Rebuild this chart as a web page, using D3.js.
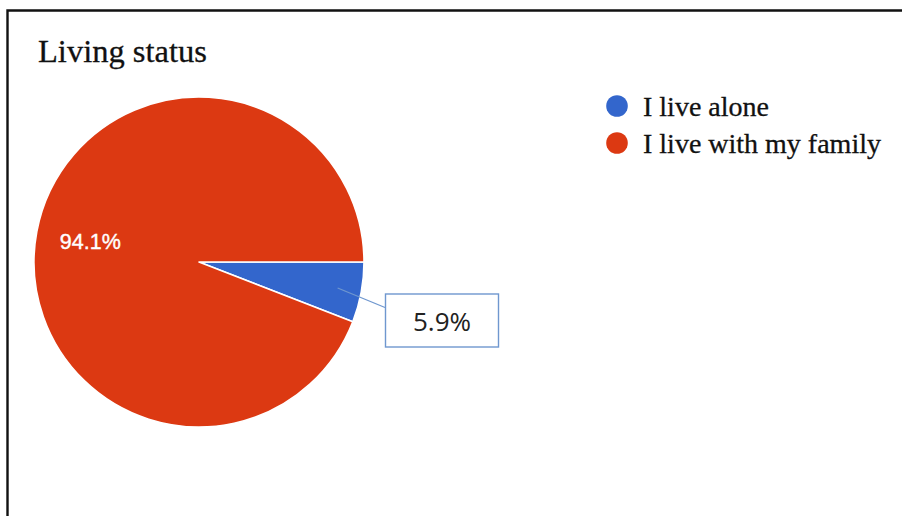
<!DOCTYPE html>
<html>
<head>
<meta charset="utf-8">
<script src="https://cdn.jsdelivr.net/npm/d3@7"></script>
<style>
  html, body { margin: 0; padding: 0; background: #fff; }
  svg { display: block; }
</style>
</head>
<body>
<svg id="chart" width="902" height="516"></svg>
<script>
// Survey answers: living status
const chartTitle = "Living status";
const categories = ["I live alone", "I live with my family"];
const shares = [5.9, 94.1];
const colors = ["#3366cc", "#dc3912"];

const svg = d3.select("#chart");
const W = 902, H = 516;

// frame around the panel
svg.append("path")
  .attr("d", `M7.5,${H} L7.5,10.5 L${W},10.5`)
  .attr("fill", "none")
  .attr("stroke", "#111")
  .attr("stroke-width", 2.4);

// title
svg.append("text")
  .attr("x", 38)
  .attr("y", 61.5)
  .attr("font-family", "'Liberation Serif', 'Times New Roman', serif")
  .attr("font-size", 32.5)
  .attr("fill", "#111")
  .attr("stroke", "#111")
  .attr("stroke-width", 0.3)
  .text(chartTitle);

// pie
const cx = 199, cy = 262, R = 165;
const data = categories.map((c, i) => ({ name: c, value: shares[i], color: colors[i] }));

const pie = d3.pie()
  .value(d => d.value)
  .sort(null)
  .startAngle(Math.PI / 2)
  .endAngle(Math.PI / 2 + 2 * Math.PI);

const arcs = pie(data);
const arc = d3.arc().innerRadius(0).outerRadius(R);
const labelArc = d3.arc().innerRadius(R * 0.67).outerRadius(R * 0.67);
const pointerArc = d3.arc().innerRadius(R * 0.855).outerRadius(R * 0.855);

const g = svg.append("g").attr("transform", `translate(${cx},${cy})`);

g.selectAll("path.slice")
  .data(arcs)
  .join("path")
  .attr("class", "slice")
  .attr("d", arc)
  .attr("fill", d => d.data.color)
  .attr("stroke", "#fff")
  .attr("stroke-width", 1.6)
  .attr("stroke-linejoin", "round");

const fmt = v => v.toFixed(1) + "%";

// large slice: label inside
arcs.filter(d => d.data.value >= 50).forEach(d => {
  const [lx, ly] = labelArc.centroid(d);
  g.append("text")
    .attr("x", lx)
    .attr("y", ly)
    .attr("text-anchor", "middle")
    .attr("dominant-baseline", "central")
    .attr("font-family", "'Liberation Sans', Arial, sans-serif")
    .attr("font-size", 21.5)
    .attr("fill", "#fff")
    .attr("stroke", "#fff")
    .attr("stroke-width", 0.4)
    .text(fmt(d.data.value));
});

// small slice: callout box with a leader line
const box = { x: 385, y: 293.5, w: 113, h: 53 };
arcs.filter(d => d.data.value < 50).forEach(d => {
  const [px, py] = pointerArc.centroid(d);
  svg.append("line")
    .attr("x1", cx + px)
    .attr("y1", cy + py)
    .attr("x2", box.x)
    .attr("y2", box.y + 14)
    .attr("stroke", "#6f97cf")
    .attr("stroke-width", 1.3);
  svg.append("rect")
    .attr("x", box.x + 0.5)
    .attr("y", box.y + 0.5)
    .attr("width", box.w)
    .attr("height", box.h)
    .attr("fill", "#fff")
    .attr("stroke", "#6f97cf")
    .attr("stroke-width", 1.4);
  svg.append("text")
    .attr("x", box.x + box.w / 2 + 0.5)
    .attr("y", box.y + 37)
    .attr("text-anchor", "middle")
    .attr("font-family", "'Open Sans', 'Liberation Sans', sans-serif")
    .attr("font-size", 26)
    .attr("fill", "#222")
    .text(fmt(d.data.value));
});

// legend
const legend = svg.append("g").attr("transform", "translate(617,106)");
const rows = legend.selectAll("g")
  .data(data)
  .join("g")
  .attr("transform", (d, i) => `translate(0,${i * 37})`);
rows.append("circle")
  .attr("r", 10.8)
  .attr("fill", d => d.color);
rows.append("text")
  .attr("x", 26)
  .attr("y", 10)
  .attr("font-family", "'Liberation Serif', 'Times New Roman', serif")
  .attr("font-size", 28)
  .attr("fill", "#111")
  .attr("stroke", "#111")
  .attr("stroke-width", 0.3)
  .text(d => d.name);
</script>
</body>
</html>
